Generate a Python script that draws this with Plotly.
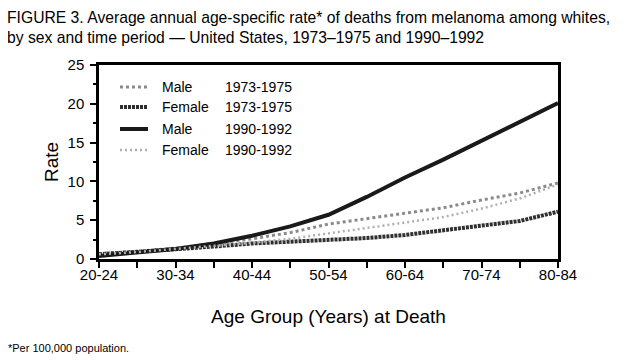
import plotly.graph_objects as go

age_groups = ["20-24", "25-29", "30-34", "35-39", "40-44", "45-49", "50-54",
              "55-59", "60-64", "65-69", "70-74", "75-79", "80-84"]
tick_labels = ["20-24", "30-34", "40-44", "50-54", "60-64", "70-74", "80-84"]

male_1973 = [0.7, 1.0, 1.4, 2.0, 2.6, 3.4, 4.5, 5.2, 5.9, 6.6, 7.6, 8.5, 9.8]
female_1973 = [0.6, 0.9, 1.2, 1.6, 2.0, 2.2, 2.4, 2.7, 3.1, 3.7, 4.2, 4.9, 6.1]
male_1990 = [0.4, 0.9, 1.3, 2.0, 3.0, 4.2, 5.7, 8.0, 10.5, 12.8, 15.2, 17.6, 20.1]
female_1990 = [0.6, 0.9, 1.3, 1.7, 2.1, 2.6, 3.3, 4.0, 4.7, 5.4, 6.5, 7.8, 9.6]

series_sex = ["Male", "Female", "Male", "Female"]
series_period = ["1973-1975", "1973-1975", "1990-1992", "1990-1992"]
series_values = [male_1973, female_1973, male_1990, female_1990]
styles = [
    dict(color="#8a8a8a", width=3, dash="dot"),
    dict(color="#303030", width=4, dash="3px,1px"),
    dict(color="#1a1a1a", width=4, dash="solid"),
    dict(color="#b0b0b0", width=2.5, dash="2px,3px"),
]

# page body has an 8px margin; plot area target in window pixels
OFF = 8
PL, PT, PW, PH = 99, 65, 459, 194


def px(xw):
    return (xw - PL) / PW


def py(yw):
    return 1 - (yw - PT) / PH


x = list(range(len(age_groups)))
fig = go.Figure()
for sex, period, vals, st in zip(series_sex, series_period, series_values, styles):
    fig.add_trace(go.Scatter(x=x, y=vals, mode="lines", line=st,
                             name=f"{sex} {period}", showlegend=False,
                             customdata=age_groups))

font = "Liberation Sans, Arial, sans-serif"

# manual legend
leg_y = [87, 107, 129, 150]
for i, (sex, period, st) in enumerate(zip(series_sex, series_period, styles)):
    yp = py(leg_y[i])
    fig.add_shape(type="line", xref="paper", yref="paper",
                  x0=px(120), x1=px(148), y0=yp, y1=yp, line=st)
    fig.add_annotation(xref="paper", yref="paper", x=px(160), y=yp,
                       text=sex, showarrow=False, xanchor="left", yanchor="middle",
                       font=dict(family=font, size=14, color="black"))
    fig.add_annotation(xref="paper", yref="paper", x=px(223), y=yp,
                       text=period, showarrow=False, xanchor="left", yanchor="middle",
                       font=dict(family=font, size=14, color="black"))

fig.add_annotation(xref="paper", yref="paper", x=px(6), y=py(8),
                   text="FIGURE 3. Average annual age-specific rate* of deaths from melanoma among whites,<br>"
                        "by sex and time period — United States, 1973–1975 and 1990–1992",
                   showarrow=False, xanchor="left", yanchor="top", align="left",
                   borderpad=0,
                   font=dict(family=font, size=15.7, color="black"))
fig.add_annotation(xref="paper", yref="paper", x=px(6), y=py(340),
                   text="*Per 100,000 population.", showarrow=False,
                   xanchor="left", yanchor="top",
                   font=dict(family=font, size=11, color="black"))

l = PL - OFF
t = PT - OFF
fig.update_layout(
    width=626, height=360,
    margin=dict(l=l, r=626 - l - PW, t=t, b=360 - t - PH),
    paper_bgcolor="white", plot_bgcolor="white",
    font=dict(family=font, color="black"),
    xaxis=dict(range=[0, 12], tickvals=list(range(0, 13, 2)), ticktext=tick_labels,
               showline=True, linecolor="black", linewidth=3, mirror=True,
               ticks="outside", ticklen=6, tickwidth=1.5, tickcolor="black",
               minor=dict(dtick=1, ticks="outside", ticklen=6, tickwidth=1.5, tickcolor="black"),
               showgrid=False, zeroline=False,
               tickfont=dict(size=15), ticklabelstandoff=-6,
               title=dict(text="Age Group (Years) at Death", font=dict(size=19), standoff=28)),
    yaxis=dict(range=[0, 25], dtick=5,
               showline=True, linecolor="black", linewidth=2.5, mirror=True,
               ticks="outside", ticklen=6, tickwidth=1.5, tickcolor="black",
               minor=dict(dtick=2.5, ticks="outside", ticklen=3, tickwidth=1.5, tickcolor="black"),
               showgrid=False, zeroline=False,
               tickfont=dict(size=15), ticklabelstandoff=3,
               title=dict(text="Rate", font=dict(size=19), standoff=4)),
)

fig.write_html("out.html")
